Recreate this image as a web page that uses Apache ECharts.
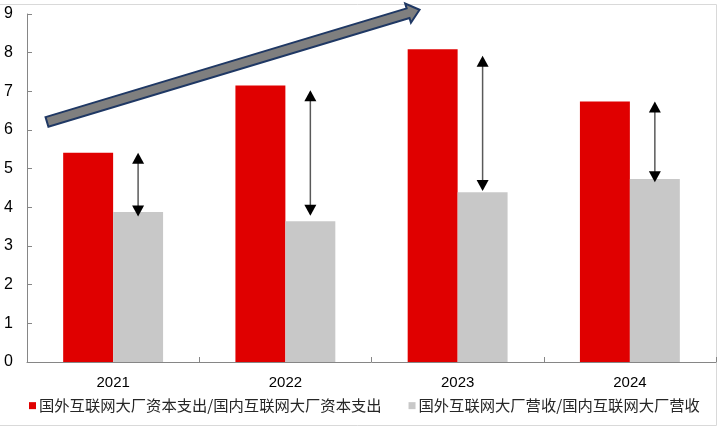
<!DOCTYPE html>
<html>
<head>
<meta charset="utf-8">
<script src="https://cdn.jsdelivr.net/npm/echarts@6/dist/echarts.min.js"></script>
<style>
html,body{margin:0;padding:0;background:#fff;}
#c{width:719px;height:428px;}
</style>
</head>
<body>
<div id="c"></div>
<script>
var categories = ['2021', '2022', '2023', '2024'];
var capexRatio = [5.41, 7.15, 8.09, 6.74];
var revenueRatio = [3.88, 3.64, 4.39, 4.73];
var arrowTop = [5.41, 7.03, 7.92, 6.74];
var arrowBottom = [3.76, 3.78, 4.42, 4.65];
var yTicks = [0, 1, 2, 3, 4, 5, 6, 7, 8, 9];
var trendFrom = [-0.384, 6.21];
var trendTo = [1.779, 9.11];
var seriesNames = ['国外互联网大厂资本支出/国内互联网大厂资本支出', '国外互联网大厂营收/国内互联网大厂营收'];

var FONT = "'Liberation Sans', Arial, 'Noto Sans CJK SC', sans-serif";
var BAR_FRAC = 0.29;

var chart = echarts.init(document.getElementById('c'), null, {renderer: 'canvas'});

function catX(api, idx, val) {
  var p0 = api.coord([0, val]);
  var p1 = api.coord([1, val]);
  var band = p1[0] - p0[0];
  return [p0[0] + idx * band, p0[1], band];
}

var arrowData = categories.map(function (c, i) { return [i, arrowTop[i], arrowBottom[i]]; });

var option = {
  animation: false,
  textStyle: {fontFamily: FONT},
  grid: {left: 27, right: 3, top: 14, bottom: 66, containLabel: false},
  legend: {
    data: seriesNames,
    left: 24,
    top: 393,
    icon: 'rect',
    itemWidth: 7,
    itemHeight: 7,
    itemGap: 27,
    textStyle: {fontSize: 15.3, color: '#262626', fontFamily: "'Noto Sans CJK SC', sans-serif", padding: [0, 0, 0, -2]}
  },
  xAxis: {
    type: 'category',
    data: categories,
    axisLine: {lineStyle: {color: '#868686', width: 1}},
    axisTick: {show: true, inside: true, length: 5, lineStyle: {color: '#868686'}},
    axisLabel: {fontSize: 15, color: '#000', margin: 13, fontFamily: FONT}
  },
  yAxis: {
    type: 'value',
    min: yTicks[0],
    max: yTicks[yTicks.length - 1],
    interval: 1,
    splitLine: {show: false},
    axisLine: {show: true, lineStyle: {color: '#868686', width: 1}},
    axisTick: {show: true, inside: true, length: 5, lineStyle: {color: '#868686'}},
    axisLabel: {fontSize: 16, color: '#000', margin: 14, fontFamily: FONT}
  },
  series: [
    {
      name: seriesNames[0],
      type: 'bar',
      data: capexRatio,
      barWidth: (BAR_FRAC * 100) + '%',
      barGap: '0%',
      itemStyle: {color: '#e00000'}
    },
    {
      name: seriesNames[1],
      type: 'bar',
      data: revenueRatio,
      barWidth: (BAR_FRAC * 100) + '%',
      barGap: '0%',
      itemStyle: {color: '#c8c8c8'}
    },
    {
      type: 'custom',
      name: 'gapArrows',
      data: arrowData,
      z: 5,
      silent: true,
      clip: false,
      renderItem: function (params, api) {
        var idx = api.value(0);
        var top = api.coord([idx, api.value(1)]);
        var bot = api.coord([idx, api.value(2)]);
        var band = api.size([1, 0])[0];
        var x = top[0] + band * BAR_FRAC / 2;
        var hw = 6, hl = 11;
        return {
          type: 'group',
          children: [
            {type: 'line', shape: {x1: x, y1: top[1] + hl - 1, x2: x, y2: bot[1] - hl + 1},
             style: {stroke: '#595959', lineWidth: 1.5}},
            {type: 'polygon', shape: {points: [[x, top[1]], [x - hw, top[1] + hl], [x + hw, top[1] + hl]]},
             style: {fill: '#000'}},
            {type: 'polygon', shape: {points: [[x, bot[1]], [x - hw, bot[1] - hl], [x + hw, bot[1] - hl]]},
             style: {fill: '#000'}}
          ]
        };
      }
    },
    {
      type: 'custom',
      name: 'trendArrow',
      data: [[0]],
      z: 6,
      silent: true,
      clip: false,
      renderItem: function (params, api) {
        var a = catX(api, trendFrom[0], trendFrom[1]);
        var b = catX(api, trendTo[0], trendTo[1]);
        var dx = b[0] - a[0], dy = b[1] - a[1];
        var len = Math.sqrt(dx * dx + dy * dy);
        var ux = dx / len, uy = dy / len;
        var nx = -uy, ny = ux;
        var sw = 5, hw = 10, hl = 12;
        function pt(along, side) {
          return [a[0] + ux * along + nx * side, a[1] + uy * along + ny * side];
        }
        var pts = [
          pt(0, -sw), pt(len - hl, -sw), pt(len - hl, -hw), pt(len, 0),
          pt(len - hl, hw), pt(len - hl, sw), pt(0, sw)
        ];
        return {
          type: 'polygon',
          shape: {points: pts},
          style: {fill: '#7f7f7f', stroke: '#1f3864', lineWidth: 2, lineJoin: 'miter'}
        };
      }
    }
  ],
  graphic: [
    {
      type: 'rect',
      shape: {x: -1, y: 4.5, width: 717.5, height: 421},
      style: {fill: null, stroke: '#d9d9d9', lineWidth: 1},
      silent: true,
      z: 0
    }
  ]
};

chart.setOption(option);
</script>
</body>
</html>
